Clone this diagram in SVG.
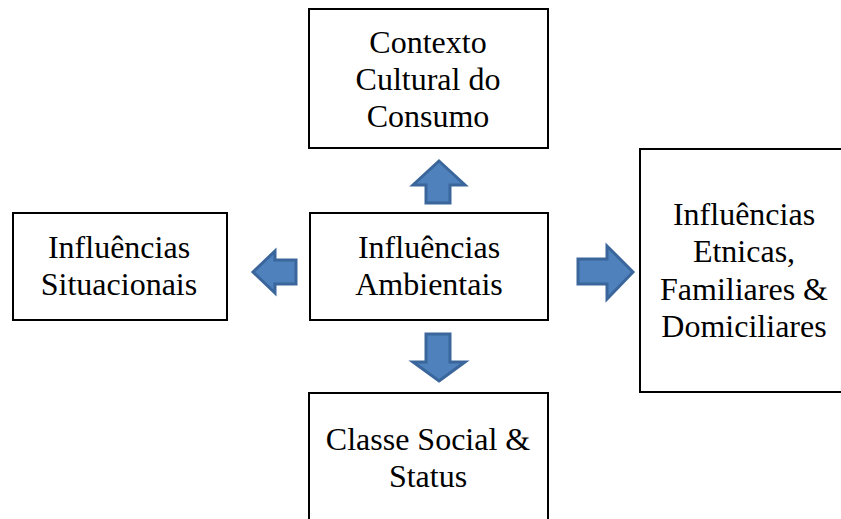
<svg xmlns="http://www.w3.org/2000/svg" width="841" height="519" viewBox="0 0 841 519">
  <style>
    .box { fill: #ffffff; stroke: #000000; stroke-width: 2; }
    .label { font-family: "Liberation Serif", "Times New Roman", serif; font-size: 32px; fill: #000000; text-anchor: middle; }
    .arrow { fill: #4F81BD; stroke: #3A669C; stroke-width: 3; stroke-linejoin: miter; }
  </style>
  <rect width="841" height="519" fill="#ffffff"/>

  <g id="connectors">
    <!-- up -->
    <path class="arrow" d="M439,161 L465,185 L450,185 L450,203 L426,203 L426,185 L413,185 Z"/>
    <!-- left -->
    <path class="arrow" d="M253,272 L275,251 L275,260 L296,260 L296,284 L275,284 L275,293 Z"/>
    <!-- right -->
    <path class="arrow" d="M633,272 L607,246 L607,259 L578,259 L578,284 L607,284 L607,299 Z"/>
    <!-- down -->
    <path class="arrow" d="M439,381 L465,362 L450,362 L450,334 L426,334 L426,362 L413,362 Z"/>
  </g>

  <g id="node-contexto">
    <rect class="box" x="309" y="9" width="239" height="139"/>
    <text class="label" x="428" y="53">Contexto</text>
    <text class="label" x="428" y="90">Cultural do</text>
    <text class="label" x="428" y="127">Consumo</text>
  </g>

  <g id="node-ambientais">
    <rect class="box" x="310" y="213" width="238" height="107"/>
    <text class="label" x="429" y="258">Influências</text>
    <text class="label" x="429" y="295">Ambientais</text>
  </g>

  <g id="node-situacionais">
    <rect class="box" x="13" y="213" width="214" height="107"/>
    <text class="label" x="119" y="258">Influências</text>
    <text class="label" x="119" y="295">Situacionais</text>
  </g>

  <g id="node-etnicas">
    <rect class="box" x="640" y="149" width="202" height="243"/>
    <text class="label" x="744" y="225">Influências</text>
    <text class="label" x="744" y="262">Etnicas,</text>
    <text class="label" x="744" y="300">Familiares &amp;</text>
    <text class="label" x="744" y="337">Domiciliares</text>
  </g>

  <g id="node-classe">
    <rect class="box" x="309" y="393" width="239" height="140"/>
    <text class="label" x="428" y="450">Classe Social &amp;</text>
    <text class="label" x="428" y="487">Status</text>
  </g>
</svg>
